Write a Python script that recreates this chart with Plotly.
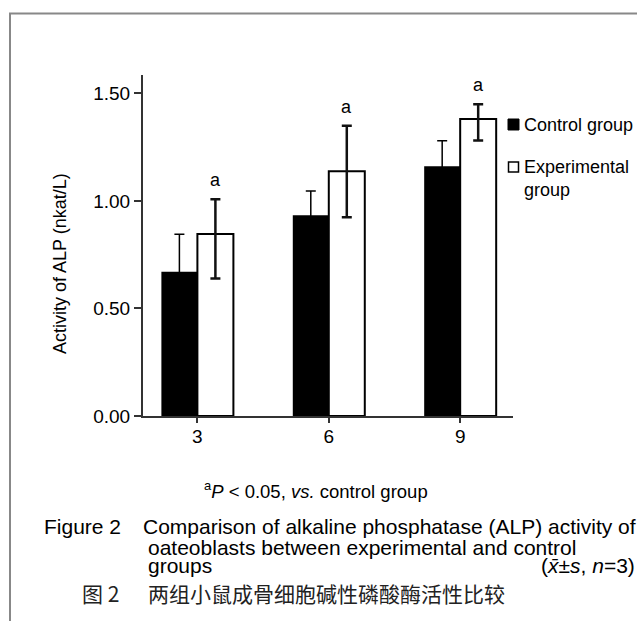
import plotly.graph_objects as go

# ---------------- data ----------------
categories = ["3", "6", "9"]
series_names = ["Control group", "Experimental group"]
control_vals = [0.670, 0.933, 1.161]
control_err = [0.175, 0.113, 0.118]
exp_vals = [0.846, 1.138, 1.381]
exp_err_plus = [0.162, 0.211, 0.068]
exp_err_minus = [0.207, 0.214, 0.101]
sig_labels = ["a", "a", "a"]
y_ticks = [0.0, 0.5, 1.0, 1.5]
y_tick_text = ["0.00", "0.50", "1.00", "1.50"]

# ---------------- layout geometry ----------------
W, H = 637, 621
L, R, T, B = 143, 513, 75, 416
BARGAP = 0.452
FONT = "Arial, 'Liberation Sans', sans-serif"
CJK = "'Noto Sans CJK SC', sans-serif"


def px(x):
    return (x - L) / (R - L)


def py(y):
    return (B - y) / (B - T)


fig = go.Figure()
fig.add_trace(go.Bar(
    x=categories, y=control_vals, name=series_names[0],
    marker=dict(color="black", line=dict(width=0)),
    error_y=dict(type="data", array=control_err, visible=True,
                 color="black", thickness=1.5, width=5),
    showlegend=False,
))
fig.add_trace(go.Bar(
    x=categories, y=exp_vals, name=series_names[1],
    marker=dict(color="white", line=dict(color="black", width=2)),
    error_y=dict(type="data", symmetric=False, array=exp_err_plus,
                 arrayminus=exp_err_minus, visible=True,
                 color="#111", thickness=2.5, width=5),
    showlegend=False,
))

annotations = []
offset = (1 - BARGAP) / 4
for i, lab in enumerate(sig_labels):
    annotations.append(dict(
        x=i + offset, y=exp_vals[i] + exp_err_plus[i], xref="x", yref="y",
        text=lab, showarrow=False, xanchor="center", yanchor="bottom", yshift=7,
        font=dict(size=18, family=FONT, color="black")))

# axis title
annotations.append(dict(
    x=px(60), y=py(264), xref="paper", yref="paper",
    text="Activity of ALP (nkat/L)", textangle=-90, showarrow=False,
    xanchor="center", yanchor="middle",
    font=dict(size=18, family=FONT, color="black")))

# legend (manual)
annotations.append(dict(
    x=px(522), y=py(125), xref="paper", yref="paper", text=series_names[0],
    showarrow=False, xanchor="left", yanchor="middle",
    font=dict(size=18, family=FONT, color="black")))
annotations.append(dict(
    x=px(522), y=py(178), xref="paper", yref="paper",
    text=series_names[1].replace(" ", "<br>"), align="left",
    showarrow=False, xanchor="left", yanchor="middle",
    font=dict(size=18, family=FONT, color="black")))

# captions
cap_font = dict(size=21, family=FONT, color="black")
cjk_font = dict(size=21, family=CJK, color="#222")
captions = [
    dict(x=px(202), y=py(490), text="<sup>a</sup><i>P</i> &lt; 0.05, <i>vs.</i> control group",
         font=dict(size=18.5, family=FONT, color="black")),
    dict(x=px(42), y=py(526), text="Figure 2", font=cap_font),
    dict(x=px(141), y=py(526), text="Comparison of alkaline phosphatase (ALP) activity of", font=cap_font),
    dict(x=px(146), y=py(547), text="oateoblasts between experimental and control", font=cap_font),
    dict(x=px(146), y=py(565), text="groups", font=cap_font),
    dict(x=px(80), y=py(593), text="图 2", font=cjk_font),
    dict(x=px(146), y=py(593), text="两组小鼠成骨细胞碱性磷酸酶活性比较", font=cjk_font),
]
for a in captions:
    a.update(xref="paper", yref="paper", showarrow=False, xanchor="left", yanchor="middle")
annotations += captions
annotations.append(dict(
    x=px(637), y=py(565), xref="paper", yref="paper",
    text="(<i>x\u0304</i>±<i>s</i>, <i>n</i>=3)", showarrow=False,
    xanchor="right", yanchor="middle", font=cap_font))

shapes = [
    # outer frame (top and left edges)
    dict(type="path", xref="paper", yref="paper",
         path=f"M {px(10)} {py(640)} L {px(10)} {py(13.5)} L {px(650)} {py(13.5)}",
         line=dict(color="#888", width=2)),
    # legend swatches
    dict(type="rect", xref="paper", yref="paper", x0=px(508), x1=px(519), y0=py(130), y1=py(119),
         fillcolor="black", line=dict(color="black", width=1)),
    dict(type="rect", xref="paper", yref="paper", x0=px(508.5), x1=px(518.5), y0=py(172), y1=py(162),
         fillcolor="white", line=dict(color="black", width=1.5)),
]

fig.update_layout(
    width=W, height=H,
    margin=dict(l=L, r=W - R, t=T, b=H - B, pad=0),
    paper_bgcolor="white", plot_bgcolor="white",
    barmode="group", bargap=BARGAP, bargroupgap=0,
    font=dict(family=FONT, color="black"),
    annotations=annotations, shapes=shapes,
    xaxis=dict(type="category", range=[-0.414, 2.402], showline=True,
               linecolor="#333", linewidth=2, ticks="outside", ticklen=5,
               tickwidth=1.5, tickcolor="#333", showgrid=False, zeroline=False,
               ticklabelstandoff=-3,
               tickfont=dict(size=19, family=FONT, color="black")),
    yaxis=dict(range=[0, 1.585], showline=True, linecolor="#333", linewidth=2,
               ticks="outside", ticklen=7, tickwidth=1.5, tickcolor="#333",
               tickvals=y_ticks, ticktext=y_tick_text, showgrid=False,
               zeroline=False, tickfont=dict(size=19, family=FONT, color="black")),
)

fig.write_html("out.html", config={"displayModeBar": False},
               post_script="document.body.style.margin='0';document.body.style.overflow='hidden';")
